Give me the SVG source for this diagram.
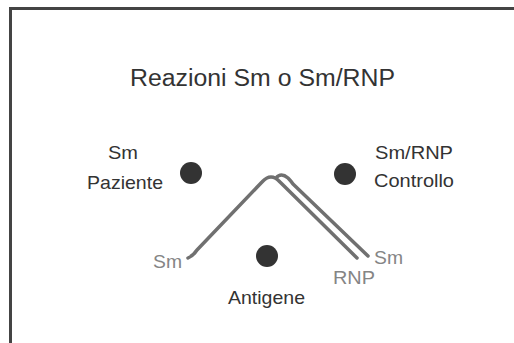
<svg xmlns="http://www.w3.org/2000/svg" width="514" height="343" viewBox="0 0 514 343">
<style>
.t{font-family:"Liberation Sans",Arial,sans-serif;fill:#333;}
.g{font-family:"Liberation Sans",Arial,sans-serif;fill:#858585;}
.dot{fill:#333;}
.line{fill:none;stroke:#707070;stroke-width:3.5;stroke-linecap:round;stroke-linejoin:round;}
</style>
<rect width="514" height="343" fill="#fff"/>
<path d="M10.5,343 V8.5 H514" fill="none" stroke="#444" stroke-width="3"/>
<text id="title" class="t" x="130" y="86" font-size="23.5" textLength="265" lengthAdjust="spacingAndGlyphs">Reazioni Sm o Sm/RNP</text>
<g id="paziente">
<circle class="dot" cx="191" cy="173" r="11"/>
<text class="t" x="108" y="158.5" font-size="18.5" textLength="30" lengthAdjust="spacingAndGlyphs">Sm</text>
<text class="t" x="87" y="188.5" font-size="18.5" textLength="76" lengthAdjust="spacingAndGlyphs">Paziente</text>
</g>
<g id="controllo">
<circle class="dot" cx="345" cy="174" r="11"/>
<text class="t" x="375" y="158.5" font-size="18.5" textLength="78" lengthAdjust="spacingAndGlyphs">Sm/RNP</text>
<text class="t" x="374" y="186.5" font-size="18.5" textLength="80" lengthAdjust="spacingAndGlyphs">Controllo</text>
</g>
<g id="antigene">
<circle class="dot" cx="267" cy="256" r="11"/>
<text class="t" x="228" y="303.5" font-size="18.5" textLength="77" lengthAdjust="spacingAndGlyphs">Antigene</text>
</g>
<g id="connectors">
<path class="line" d="M188,258 Q193,256 197,250 L262,182 Q271,172 280,182 L357,258"/>
<path class="line" d="M276,178 Q281,172 288,178 Q291,181 293,184 L368,256"/>
<text class="g" x="153" y="267.5" font-size="18.5" textLength="29" lengthAdjust="spacingAndGlyphs">Sm</text>
<text class="g" x="374" y="263.5" font-size="18.5" textLength="29" lengthAdjust="spacingAndGlyphs">Sm</text>
<text class="g" x="333" y="283.5" font-size="18.5" textLength="42" lengthAdjust="spacingAndGlyphs">RNP</text>
</g>
</svg>
